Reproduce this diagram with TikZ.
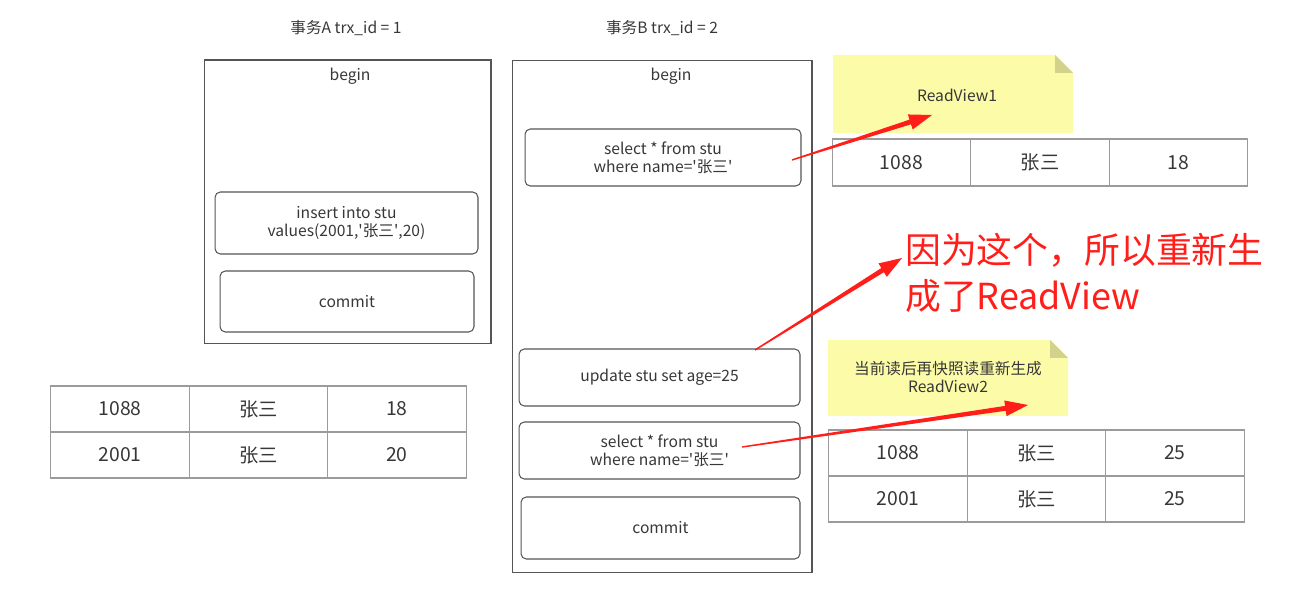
\documentclass[tikz,border=0pt]{standalone}
\usepackage{fontspec}
\setmainfont{Noto Sans CJK SC}
\usetikzlibrary{calc}

\definecolor{txtgray}{RGB}{55,55,55}
\definecolor{boxgray}{RGB}{85,85,85}
\definecolor{cellgray}{RGB}{155,155,155}
\definecolor{notefill}{RGB}{252,252,168}
\definecolor{foldfill}{RGB}{210,210,140}
\definecolor{annred}{RGB}{255,30,25}

\tikzset{
  every node/.style={text=txtgray, font=\fontsize{8.9}{10.2}\selectfont},
  txbox/.style={draw=boxgray, line width=0.6pt, inner sep=0pt},
  stmt/.style={draw=boxgray, line width=0.6pt, rounded corners=3pt, align=center, inner sep=0pt},
  cell/.style={draw=cellgray, line width=0.6pt, minimum width=2.77cm, minimum height=0.92cm, inner sep=0pt, font=\fontsize{11}{12}\selectfont},
  note/.style={fill=notefill},
  bigred/.style={text=annred, align=left, anchor=west, font=\fontsize{20.4}{26}\selectfont}
}

% comilla recta
\newcommand{\q}{\textquotesingle}

% tapered red annotation arrow
\newcommand{\redarrow}[2]{%
  \path ($(#2)!13pt!(#1)$) coordinate (hb);
  \fill[annred] ($(#1)!0.4pt!90:(#2)$) -- ($(hb)!1.4pt!90:(#2)$) -- ($(hb)!4.5pt!90:(#2)$) -- (#2)
    -- ($(hb)!4.5pt!-90:(#2)$) -- ($(hb)!1.4pt!-90:(#2)$) -- ($(#1)!0.4pt!-90:(#2)$) -- cycle;
}

\begin{document}
\begin{tikzpicture}[x=0.02cm, y=-0.02cm]
    \useasboundingbox (0,0) rectangle (1311,607);

    % Titulos de las transacciones
    \node (titA) at (346,28) {事务A trx\_id = 1};
    \node (titB) at (662,28) {事务B trx\_id = 2};

    % Transaccion A
    \node[txbox, minimum width=5.74cm, minimum height=5.68cm] (boxA) at (347.5,202) {};
    \node (beginA) at (350,76) {begin};
    \node[stmt, minimum width=5.26cm, minimum height=1.24cm] (insA) at (346.5,223)
        {insert into stu\\values(2001,\q 张三\q,20)};
    \node[stmt, minimum width=5.08cm, minimum height=1.22cm] (comA) at (347,301.5) {commit};

    % Transaccion B
    \node[txbox, minimum width=6cm, minimum height=10.26cm] (boxB) at (662,316.5) {};
    \node (beginB) at (671,76) {begin};
    \node[stmt, minimum width=5.52cm, minimum height=1.14cm] (selB1) at (663,157.5)
        {select * from stu\\where name=\q 张三\q};
    \node[stmt, minimum width=5.62cm, minimum height=1.14cm] (updB) at (659.5,377.5)
        {update stu set age=25};
    \node[stmt, minimum width=5.62cm, minimum height=1.14cm] (selB2) at (659.5,450.5)
        {select * from stu\\where name=\q 张三\q};
    \node[stmt, minimum width=5.58cm, minimum height=1.24cm] (comB) at (660.5,528) {commit};

    % Tabla inicial
    \foreach \v [count=\i] in {1088,张三,18}
        \node[cell] (tl1\i) at ({51+138.33*(\i-0.5)},409) {\v};
    \foreach \v [count=\i] in {2001,张三,20}
        \node[cell] (tl2\i) at ({51+138.33*(\i-0.5)},455) {\v};

    % Nota ReadView1
    \fill[note] (833,55) -- (1055,55) -- (1073,73) -- (1073,133) -- (833,133) -- cycle;
    \fill[foldfill] (1055,55) -- (1073,73) -- (1055,73) -- cycle;
    \node (rv1) at (957,95) {ReadView1};
    \foreach \v [count=\i] in {1088,张三,18}
        \node[cell, minimum height=0.94cm] (tr1\i) at ({832+138.67*(\i-0.5)},162.5) {\v};

    % Nota ReadView2
    \fill[note] (828,340) -- (1050,340) -- (1068,358) -- (1068,416) -- (828,416) -- cycle;
    \fill[foldfill] (1050,340) -- (1068,358) -- (1050,358) -- cycle;
    \node[align=center] (rv2) at (948,377) {当前读后再快照读重新生成\\ReadView2};
    \foreach \v [count=\i] in {1088,张三,25}
        \node[cell] (tr2\i) at ({829+138.33*(\i-0.5)},453) {\v};
    \foreach \v [count=\i] in {2001,张三,25}
        \node[cell] (tr3\i) at ({829+138.33*(\i-0.5)},499) {\v};

    % Anotacion en rojo
    \node[bigred] (why) at (899,273) {因为这个，所以重新生\\成了ReadView};

    % Flechas rojas
    \coordinate (a1s) at (792,160);
    \coordinate (a1e) at (932,115);
    \coordinate (a2s) at (755,350);
    \coordinate (a2e) at (902,258);
    \coordinate (a3s) at (742,447);
    \coordinate (a3e) at (1028,405);
    \redarrow{a1s}{a1e}
    \redarrow{a2s}{a2e}
    \redarrow{a3s}{a3e}
\end{tikzpicture}
\end{document}
